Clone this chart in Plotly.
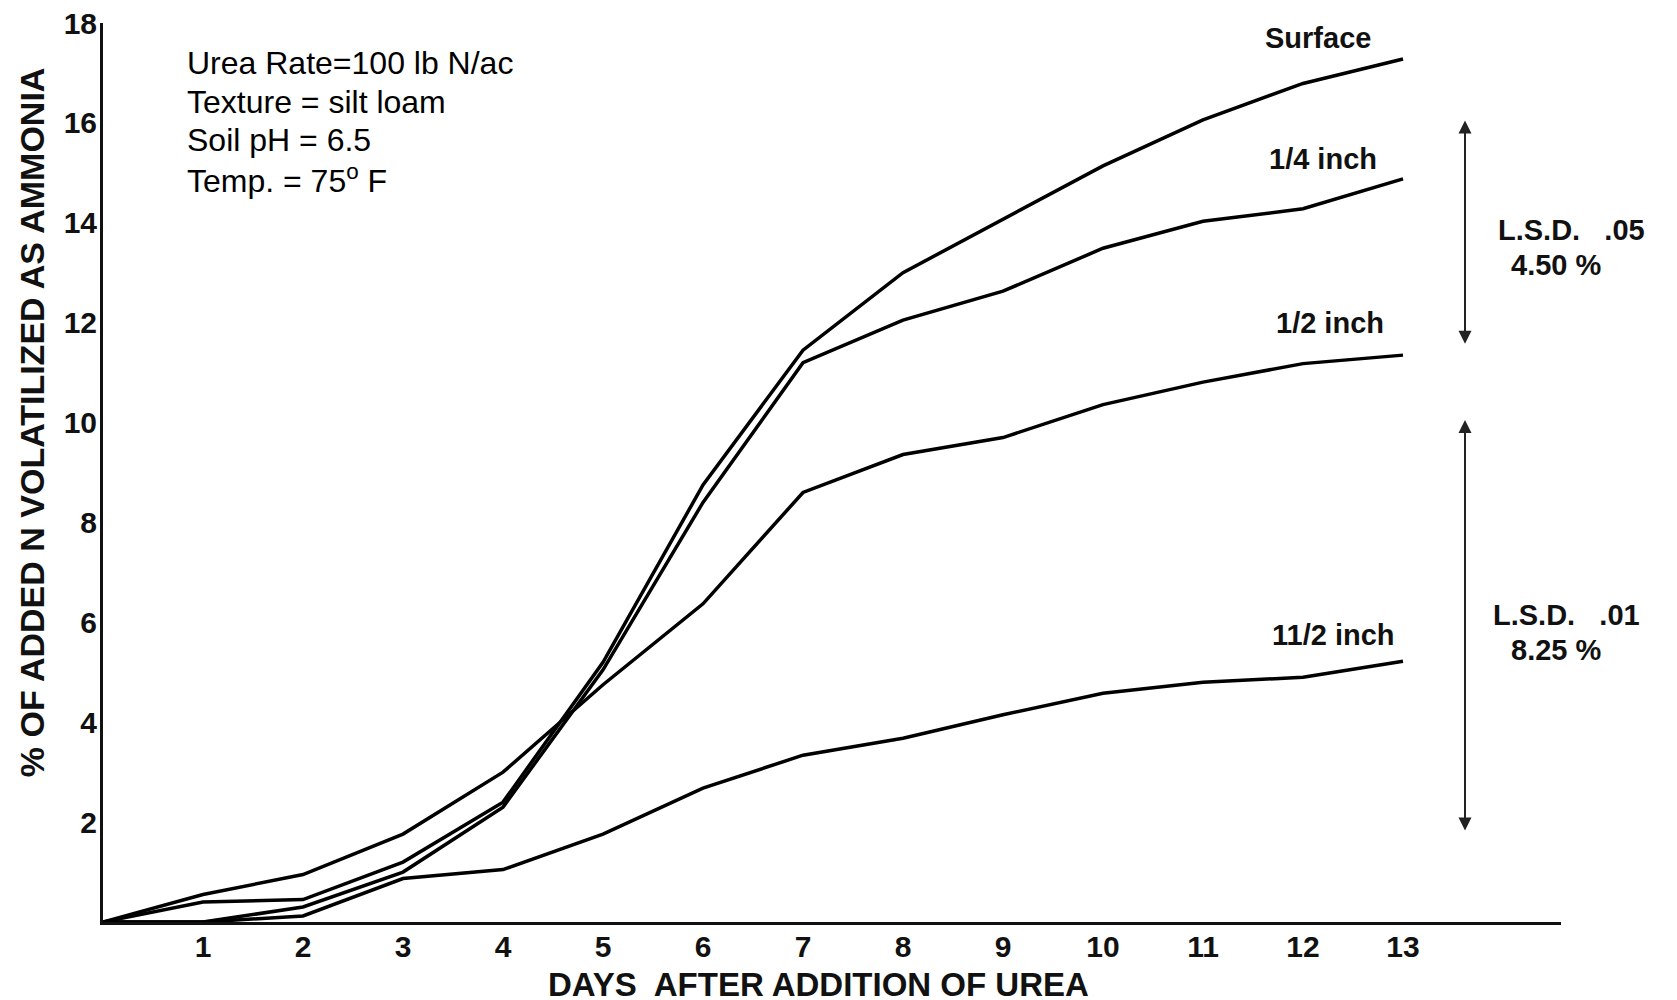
import plotly.graph_objects as go

days = list(range(14))
surface = [0, 0.40, 0.45, 1.20, 2.40, 5.20, 8.75, 11.45, 13.00, 14.07, 15.14, 16.06, 16.79, 17.28]
quarter_inch = [0, 0.00, 0.30, 1.00, 2.30, 5.05, 8.40, 11.20, 12.05, 12.63, 13.49, 14.03, 14.28, 14.88]
half_inch = [0, 0.55, 0.95, 1.76, 3.00, 4.75, 6.37, 8.60, 9.36, 9.70, 10.36, 10.81, 11.18, 11.35]
one_half_inch = [0, 0.00, 0.12, 0.87, 1.05, 1.76, 2.68, 3.34, 3.68, 4.15, 4.58, 4.80, 4.90, 5.22]

series_names = ["Surface", "1/4 inch", "1/2 inch", "11/2 inch"]
series_values = [surface, quarter_inch, half_inch, one_half_inch]
label_pos = [(12.15, 17.69), (12.2, 15.27), (12.27, 12.0), (12.3, 5.75)]

x_ticks = list(range(1, 14))
y_ticks = list(range(2, 19, 2))

lsd05 = (11.55, 16.05)
lsd01 = (1.80, 10.05)
lsd_x = 13.62

info_lines = ["Urea Rate=100 lb N/ac", "Texture = silt loam", "Soil pH = 6.5", "Temp. = 75<sup>o</sup> F"]

FAM = "Liberation Sans, Arial, sans-serif"

fig = go.Figure()
for name, vals in zip(series_names, series_values):
    fig.add_trace(go.Scatter(x=days, y=vals, mode="lines", name=name,
                             line=dict(color="black", width=3.5), showlegend=False))

tick_font = dict(family=FAM, color="#111", size=30, weight="bold")

ann = []
for name, (lx, ly) in zip(series_names, label_pos):
    ann.append(dict(x=lx, y=ly, xref="x", yref="y", text=name, showarrow=False,
                    xanchor="center", yanchor="middle",
                    font=dict(family=FAM, size=29, color="#111", weight="bold")))

for (y0, y1) in (lsd05, lsd01):
    ann.append(dict(x=lsd_x, y=y1, ax=lsd_x, ay=y0, xref="x", yref="y", axref="x", ayref="y",
                    text="", showarrow=True, arrowhead=2, arrowside="end+start",
                    arrowwidth=2, arrowsize=1.3, arrowcolor="#222"))

lsd_font = dict(family=FAM, size=29, color="#111", weight="bold")
for txt, px, py in [("L.S.D.   .05", 1.0075, 0.770), ("4.50 %", 0.9966, 0.7308),
                    ("L.S.D.   .01", 1.004, 0.3415), ("8.25 %", 0.9966, 0.3026)]:
    ann.append(dict(x=px, y=py, xref="paper", yref="paper", text=txt, showarrow=False,
                    xanchor="center", yanchor="middle", font=lsd_font))

for txt, py in zip(info_lines, [0.9555, 0.9121, 0.8699, 0.8265]):
    ann.append(dict(x=0.0562, y=py, xref="paper", yref="paper", xanchor="left", yanchor="middle",
                    text=txt, showarrow=False,
                    font=dict(family=FAM, size=32, color="black")))

ann.append(dict(x=0.4904, y=-0.069, xref="paper", yref="paper", text="DAYS  AFTER ADDITION OF UREA",
                xanchor="center", yanchor="middle", showarrow=False,
                font=dict(family=FAM, size=33, color="#111", weight="bold")))
ann.append(dict(x=-0.0487, y=0.556, xref="paper", yref="paper", text="% OF ADDED N VOLATILIZED AS AMMONIA",
                xanchor="center", yanchor="middle", textangle=-90, showarrow=False,
                font=dict(family=FAM, size=34, color="#111", weight="bold")))

fig.update_layout(
    width=1677, height=1000,
    margin=dict(l=95, r=124, t=15, b=86),
    paper_bgcolor="white", plot_bgcolor="white",
    annotations=ann,
    xaxis=dict(range=[0, 14.58], tickvals=x_ticks, ticktext=[str(t) for t in x_ticks],
               showgrid=False, zeroline=False, showline=True, linecolor="#111", linewidth=3,
               ticks="", tickfont=tick_font, ticklabelstandoff=-4, ticklabeloverflow="allow",
               automargin=False),
    yaxis=dict(range=[0, 18], tickvals=y_ticks, ticktext=[str(t) for t in y_ticks],
               showgrid=False, zeroline=False, showline=True, linecolor="#111", linewidth=3,
               ticks="", tickfont=tick_font, ticklabelstandoff=-3, ticklabeloverflow="allow",
               automargin=False),
)

fig.write_html("out.html")
